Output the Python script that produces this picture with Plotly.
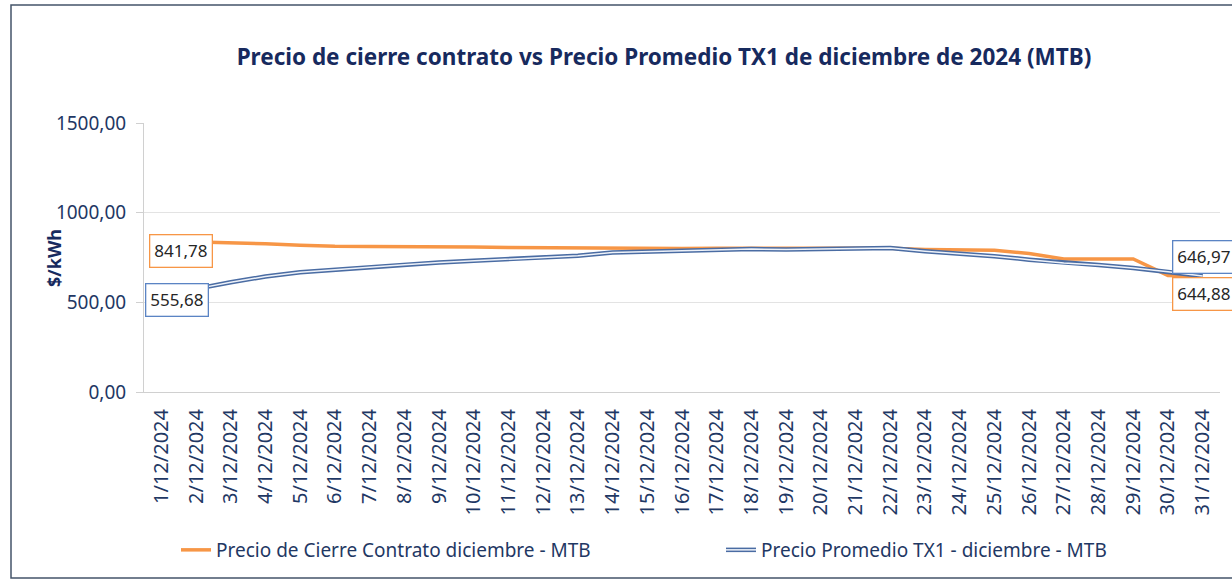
import plotly.graph_objects as go

categories = ["1/12/2024", "2/12/2024", "3/12/2024", "4/12/2024", "5/12/2024", "6/12/2024",
              "7/12/2024", "8/12/2024", "9/12/2024", "10/12/2024", "11/12/2024", "12/12/2024",
              "13/12/2024", "14/12/2024", "15/12/2024", "16/12/2024", "17/12/2024", "18/12/2024",
              "19/12/2024", "20/12/2024", "21/12/2024", "22/12/2024", "23/12/2024", "24/12/2024",
              "25/12/2024", "26/12/2024", "27/12/2024", "28/12/2024", "29/12/2024", "30/12/2024",
              "31/12/2024"]

precio_cierre = [841.78, 838, 833, 826, 819, 813, 812, 812, 811, 808, 806, 804, 802, 800, 799,
                 800, 801, 801, 799, 799, 802, 801, 795, 791, 790, 772, 742, 742, 742, 650, 644.88]

precio_tx1 = [555.68, 575, 612, 644, 668, 683, 698, 710, 722, 732, 740, 748, 760, 778, 783,
              787, 792, 797, 795, 797, 803, 803, 785, 772, 757, 738, 720, 708, 692, 670, 646.97]

name_cierre = "Precio de Cierre Contrato diciembre - MTB"
name_tx1 = "Precio Promedio TX1 - diciembre - MTB"
title_text = "Precio de cierre contrato vs Precio Promedio TX1 de diciembre de 2024 (MTB)"

ORANGE = "#F79646"
BLUE = "#4A6CA3"
NAVY = "#1F3864"
TITLE_NAVY = "#172A5E"
FONT = "Noto Sans"

def fmt(v):
    return f"{v:.2f}".replace(".", ",")

fig = go.Figure()
fig.add_trace(go.Scatter(x=categories, y=precio_cierre, mode="lines", name=name_cierre,
                         line=dict(color=ORANGE, width=3.5), legend="legend"))
fig.add_trace(go.Scatter(x=categories, y=precio_tx1, mode="lines", name=name_tx1,
                         line=dict(color=BLUE, width=4.5), legend="legend2"))
fig.add_trace(go.Scatter(x=categories, y=precio_tx1, mode="lines", name=name_tx1,
                         line=dict(color="#EEF2F9", width=1.5), legend="legend3"))

W, H = 1232, 581
L, R, T, B = 144, 12, 123, 189
pw, ph = W - L - R, H - T - B

def px(xp):
    return (xp - L) / pw

def py(yp):
    return (H - B - yp) / ph

label_font = dict(family=FONT, size=17, color="#262626")
annos = [
    dict(x=categories[0], y=precio_cierre[0], text=fmt(precio_cierre[0]), xshift=20, yshift=-10,
         bordercolor=ORANGE),
    dict(x=categories[0], y=precio_tx1[0], text=fmt(precio_tx1[0]), xshift=16, yshift=-8,
         bordercolor="#5B84C4"),
    dict(x=categories[-1], y=precio_tx1[-1], text=fmt(precio_tx1[-1]), xshift=1, yshift=19,
         bordercolor="#5B84C4"),
    dict(x=categories[-1], y=precio_cierre[-1], text=fmt(precio_cierre[-1]), xshift=1, yshift=-18,
         bordercolor=ORANGE),
]
for a in annos:
    a.update(xref="x", yref="y", showarrow=False, bgcolor="white", borderwidth=1.3,
             borderpad=4, font=label_font)

annos.append(dict(xref="paper", yref="paper", x=px(40), y=py(258), text="<b>$/kWh</b>",
                  textangle=-90, showarrow=False, font=dict(family=FONT, size=18, color=TITLE_NAVY)))

leg_font = dict(family=FONT, size=19, color=NAVY)

fig.update_layout(
    width=W, height=H,
    margin=dict(l=L, r=R, t=T, b=B, autoexpand=False),
    paper_bgcolor="white", plot_bgcolor="white",
    separators=",.",
    title=dict(text=f"<b>{title_text}</b>", x=664 / W, xref="container", xanchor="center",
               y=1 - 57 / H, yref="container", yanchor="middle",
               font=dict(family=FONT, size=22.5, color=TITLE_NAVY)),
    xaxis=dict(type="category", range=[-0.5, 30.5], tickangle=-90, showgrid=False,
               showline=True, linecolor="#D0D0D0", linewidth=1, ticks="",
               ticklabelstandoff=8,
               tickfont=dict(family=FONT, size=20, color=NAVY), fixedrange=True),
    yaxis=dict(range=[0, 1500], tickvals=[0, 500, 1000, 1500], tickformat=".2f",
               showgrid=True, gridcolor="#E3E3E3", gridwidth=1, zeroline=False,
               showline=True, linecolor="#D0D0D0", linewidth=1,
               ticks="outside", ticklen=7, tickcolor="#D0D0D0", ticklabelstandoff=6,
               tickfont=dict(family=FONT, size=19, color=NAVY)),
    legend=dict(orientation="h", x=px(176), y=py(550), xanchor="left", yanchor="middle",
                bgcolor="rgba(0,0,0,0)", font=leg_font),
    legend2=dict(orientation="h", x=px(721), y=py(550), xanchor="left", yanchor="middle",
                 bgcolor="rgba(0,0,0,0)", font=leg_font),
    legend3=dict(orientation="h", x=px(721), y=py(550), xanchor="left", yanchor="middle",
                 bgcolor="rgba(0,0,0,0)", font=dict(family=FONT, size=19, color="rgba(0,0,0,0)")),
    annotations=annos,
    shapes=[dict(type="rect", xref="paper", yref="paper", x0=px(11), x1=px(1245),
                 y0=py(578), y1=py(5), line=dict(color="#44546A", width=1.5),
                 fillcolor="rgba(0,0,0,0)", layer="above")],
    showlegend=True,
)

fig.write_html("out.html", config={"displayModeBar": False},
               post_script="document.body.style.margin='0';document.body.style.overflow='hidden';")
